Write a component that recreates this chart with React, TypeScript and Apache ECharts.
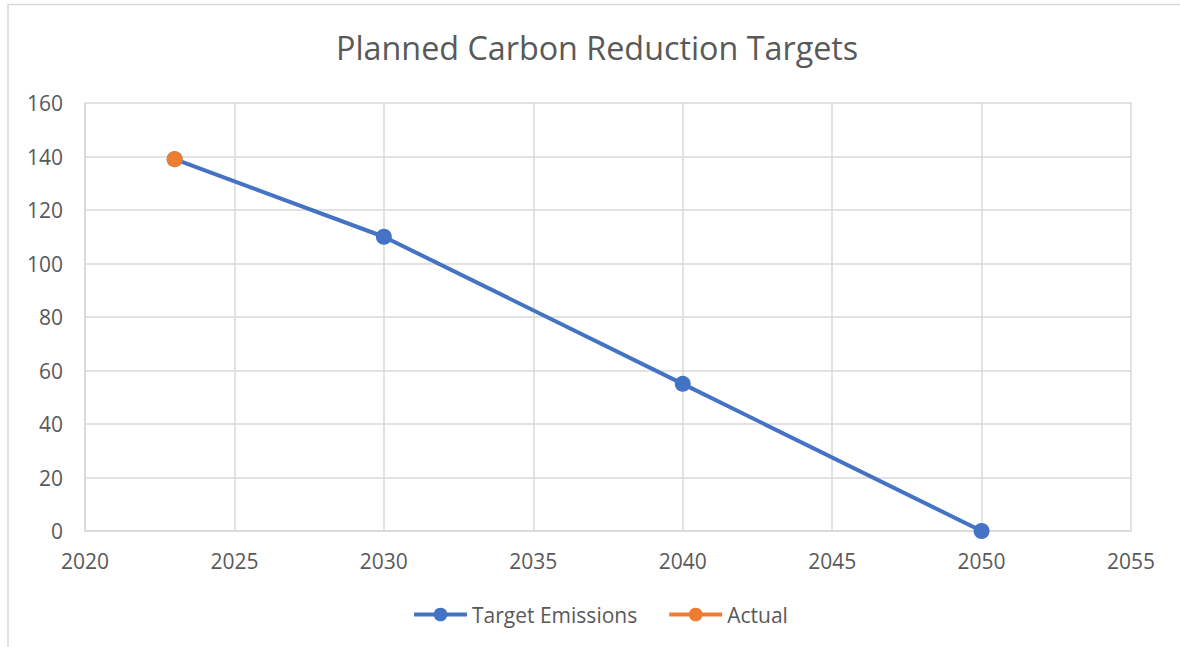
import React, { useEffect, useRef } from "react";
import * as echarts from "echarts";

const years = [2023, 2030, 2040, 2050];
const targetEmissions = [139, 110, 55, 0];
const actualYears = [2023];
const actualValues = [139];
const seriesNames = ["Target Emissions", "Actual"];
const titleText = "Planned Carbon Reduction Targets";

export default function App() {
  const ref = useRef<HTMLDivElement>(null);
  useEffect(() => {
    document.body.style.margin = "0";
    const chart = echarts.init(ref.current!, null, { renderer: "svg" });
    const font = "'Open Sans', 'Noto Sans', sans-serif";
    const text = "#595959";
    const grid = "#d9d9d9";
    chart.setOption({
      animation: false,
      backgroundColor: "#ffffff",
      title: {
        text: titleText,
        left: 331,
        top: 26,
        textStyle: { fontFamily: font, fontSize: 32.3, fontWeight: "normal", color: text },
      },
      graphic: [
        {
          type: "rect",
          shape: { x: 8, y: 4.5, width: 1300, height: 800 },
          style: { fill: "none", stroke: grid, lineWidth: 1.5 },
          silent: true,
          z: -1,
        },
      ],
      grid: { left: 85, right: 49, top: 103, bottom: 116 },
      legend: {
        bottom: 17,
        left: 407,
        itemWidth: 53,
        itemHeight: 17,
        itemGap: 30,
        lineStyle: { width: 4 },
        textStyle: { fontFamily: font, fontSize: 21, color: text },
        data: seriesNames,
      },
      xAxis: {
        type: "value",
        min: 2020,
        max: 2055,
        interval: 5,
        axisLine: { show: true, lineStyle: { color: grid, width: 1.5 } },
        axisTick: { show: false },
        splitLine: { show: true, lineStyle: { color: grid, width: 1.5 } },
        axisLabel: {
          fontFamily: font,
          fontSize: 21,
          color: text,
          margin: 19,
          formatter: (v: number) => String(v),
        },
      },
      yAxis: {
        type: "value",
        min: 0,
        max: 160,
        interval: 20,
        axisLine: { show: true, lineStyle: { color: grid, width: 1.5 } },
        axisTick: { show: false },
        splitLine: { show: true, lineStyle: { color: grid, width: 1.5 } },
        axisLabel: { fontFamily: font, fontSize: 21, color: text, margin: 22 },
      },
      series: [
        {
          name: seriesNames[0],
          type: "line",
          data: years.map((y, i) => [y, targetEmissions[i]]),
          symbol: "circle",
          symbolSize: 16,
          lineStyle: { color: "#4472C4", width: 4 },
          itemStyle: { color: "#4472C4" },
        },
        {
          name: seriesNames[1],
          type: "line",
          data: actualYears.map((y, i) => [y, actualValues[i]]),
          symbol: "circle",
          symbolSize: 16,
          lineStyle: { color: "#ED7D31", width: 4 },
          itemStyle: { color: "#ED7D31" },
          z: 3,
        },
      ],
    });
    return () => chart.dispose();
  }, []);
  return <div ref={ref} style={{ width: 1180, height: 647 }} />;
}
